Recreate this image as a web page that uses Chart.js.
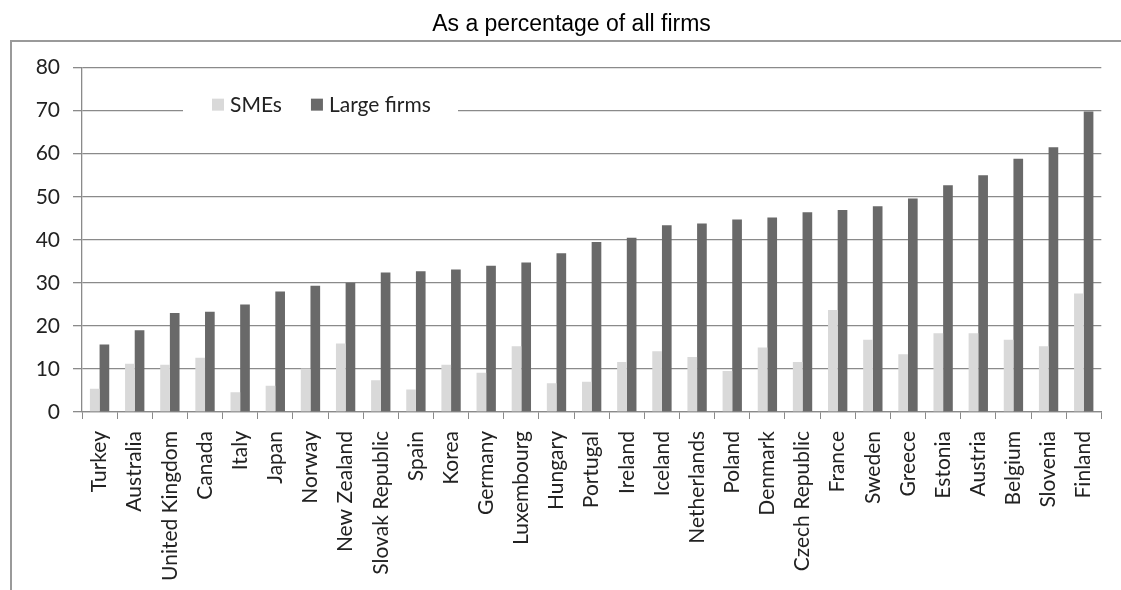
<!DOCTYPE html>
<html>
<head>
<meta charset="utf-8">
<script src="https://cdn.jsdelivr.net/npm/chart.js@4.4.1/dist/chart.umd.min.js"></script>
<style>
  html, body { margin: 0; padding: 0; background: #fff; }
  #wrap { position: relative; width: 1121px; height: 590px; }
</style>
</head>
<body>
<div id="wrap"><canvas id="firmsChart"></canvas></div>
<script>
// Chart data
const countries = ['Turkey', 'Australia', 'United Kingdom', 'Canada', 'Italy', 'Japan', 'Norway',
    'New Zealand', 'Slovak Republic', 'Spain', 'Korea', 'Germany', 'Luxembourg', 'Hungary',
    'Portugal', 'Ireland', 'Iceland', 'Netherlands', 'Poland', 'Denmark', 'Czech Republic',
    'France', 'Sweden', 'Greece', 'Estonia', 'Austria', 'Belgium', 'Slovenia', 'Finland'];
const smeValues = [5.4, 11.2, 11.0, 12.6, 4.6, 6.1, 10.1, 15.9, 7.4, 5.2, 11.0, 9.1, 15.3, 6.7,
    7.0, 11.6, 14.1, 12.8, 9.5, 15.0, 11.6, 23.7, 16.8, 13.4, 18.3, 18.3, 16.8, 15.3, 27.5];
const largeValues = [15.7, 19.0, 23.0, 23.3, 25.0, 28.0, 29.3, 30.0, 32.4, 32.7, 33.1, 34.0, 34.7, 36.9,
    39.5, 40.5, 43.4, 43.8, 44.7, 45.2, 46.4, 46.9, 47.8, 49.6, 52.7, 55.0, 58.8, 61.5, 69.8];
const seriesNames = ['SMEs', 'Large firms'];
const yTicks = [0, 10, 20, 30, 40, 50, 60, 70, 80];

const gridColor = '#8a8a8a';

// Grey frame round the plot (left and top edges only are visible)
const framePlugin = {
    id: 'frame',
    beforeDraw(chart) {
        const ctx = chart.ctx;
        ctx.save();
        ctx.strokeStyle = '#9a9a9a';
        ctx.lineWidth = 2;
        ctx.beginPath();
        ctx.moveTo(11, chart.height);
        ctx.lineTo(11, 41);
        ctx.lineTo(chart.width, 41);
        ctx.stroke();
        ctx.restore();
    }
};

// Legend sitting inside the plot, on a white box over the 70 gridline
const insideLegend = {
    id: 'insideLegend',
    afterDraw(chart) {
        const { ctx, chartArea } = chart;
        const y = chart.scales.y.getPixelForValue(70);
        ctx.save();
        ctx.font = '21px Lato';
        ctx.fillStyle = '#fff';
        ctx.fillRect(chartArea.left + 101, y - 20, 275, 36);
        let x = chartArea.left + 130;
        chart.data.datasets.forEach(ds => {
            ctx.fillStyle = ds.backgroundColor;
            ctx.fillRect(x, y - 12, 12, 12);
            x += 18;
            ctx.fillStyle = '#222';
            ctx.textBaseline = 'alphabetic';
            ctx.fillText(ds.label, x, y + 1);
            x += ctx.measureText(ds.label).width + 29;
        });
        ctx.restore();
    }
};

Chart.defaults.font.family = 'Lato';
Chart.defaults.color = '#222';

new Chart(document.getElementById('firmsChart'), {
    type: 'bar',
    data: {
        labels: countries,
        datasets: [
            { label: seriesNames[0], data: smeValues, backgroundColor: '#d9d9d9' },
            { label: seriesNames[1], data: largeValues, backgroundColor: '#696969' }
        ]
    },
    options: {
        responsive: true,
        maintainAspectRatio: false,
        animation: false,
        layout: { padding: { left: 26, right: 4, top: 0, bottom: 0 } },
        datasets: {
            bar: { categoryPercentage: 0.55, barPercentage: 1.0, borderWidth: 0 }
        },
        plugins: {
            legend: { display: false },
            tooltip: { enabled: false },
            title: {
                display: true,
                text: 'As a percentage of all firms',
                color: '#000',
                font: { family: 'Liberation Sans', size: 23, weight: 'normal' },
                padding: { top: 11, bottom: 29 }
            }
        },
        scales: {
            x: {
                grid: {
                    offset: true,
                    drawOnChartArea: false,
                    drawTicks: true,
                    tickLength: 7,
                    color: gridColor
                },
                border: { display: true, color: gridColor, width: 1.3 },
                ticks: {
                    autoSkip: false,
                    minRotation: 90,
                    maxRotation: 90,
                    padding: 12,
                    font: { size: 21 }
                },
                afterFit(scale) { scale.height = 178; }
            },
            y: {
                min: 0,
                max: 80,
                afterBuildTicks(scale) { scale.ticks = yTicks.map(v => ({ value: v })); },
                grid: { color: gridColor, lineWidth: 1.3, tickLength: 9 },
                border: { display: true, color: gridColor, width: 1.3 },
                ticks: { padding: 13, font: { size: 21 } },
                afterFit(scale) { scale.width = 56; }
            }
        }
    },
    plugins: [framePlugin, insideLegend]
});
</script>
</body>
</html>
